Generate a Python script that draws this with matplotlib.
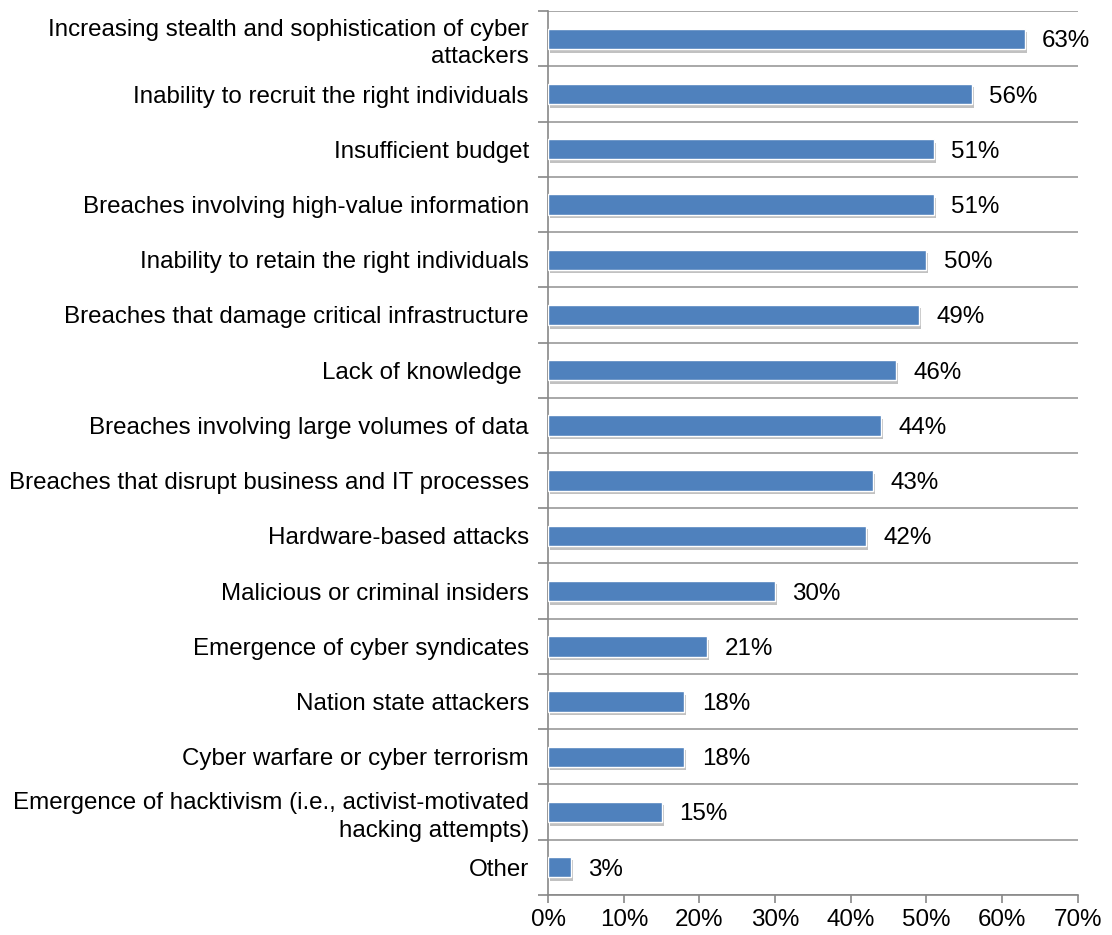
import matplotlib
matplotlib.use('Agg')
import matplotlib.pyplot as plt
import matplotlib.patheffects as pe
import numpy as np

plt.rcParams['font.family'] = ['Liberation Sans', 'DejaVu Sans']

categories = [
    'Increasing stealth and sophistication of cyber\nattackers',
    'Inability to recruit the right individuals',
    'Insufficient budget',
    'Breaches involving high-value information',
    'Inability to retain the right individuals',
    'Breaches that damage critical infrastructure',
    'Lack of knowledge ',
    'Breaches involving large volumes of data',
    'Breaches that disrupt business and IT processes',
    'Hardware-based attacks',
    'Malicious or criminal insiders',
    'Emergence of cyber syndicates',
    'Nation state attackers',
    'Cyber warfare or cyber terrorism',
    'Emergence of hacktivism (i.e., activist-motivated\nhacking attempts)',
    'Other',
]
values = [63, 56, 51, 51, 50, 49, 46, 44, 43, 42, 30, 21, 18, 18, 15, 3]
xticks = [0, 10, 20, 30, 40, 50, 60, 70]

FS = 17.4

fig = plt.figure(figsize=(11.12, 9.35), dpi=100)
ax = fig.add_axes([0.493, 0.043, 0.476, 0.945])

n = len(values)
y = np.arange(n)
bars = ax.barh(y, values, height=0.37, color='#4F81BD', edgecolor='white',
               linewidth=1.0, zorder=3)
for b in bars:
    b.set_path_effects([pe.SimplePatchShadow(offset=(1.5, -2.5), shadow_rgbFace='#999999', alpha=0.6),
                        pe.Normal()])

# value labels right of each bar
for yi, v in zip(y, values):
    ax.text(v + 2.3, yi, f'{v}%', va='center_baseline', ha='left', fontsize=FS)

ax.set_ylim(n - 0.5, -0.5)
ax.set_xlim(0, 70)
ax.set_xticks(xticks)
ax.set_xticklabels([f'{t}%' for t in xticks], fontsize=FS)
ax.set_yticks(y)
ax.set_yticklabels(categories, fontsize=FS, linespacing=1.3)
ax.tick_params(axis='y', length=0, pad=14)
ax.set_yticks(np.arange(-0.5, n, 1), minor=True)
ax.tick_params(axis='y', which='minor', length=7, color='#888888', width=1.2)
ax.tick_params(axis='x', length=6, color='#888888', width=1.2, pad=4)
ax.grid(axis='y', which='minor', color='#999999', linewidth=1.2, zorder=0)

for s in ['top', 'right']:
    ax.spines[s].set_visible(False)
for s in ['left', 'bottom']:
    ax.spines[s].set_color('#888888')
    ax.spines[s].set_linewidth(1.2)

fig.savefig('out.png', dpi=100)
